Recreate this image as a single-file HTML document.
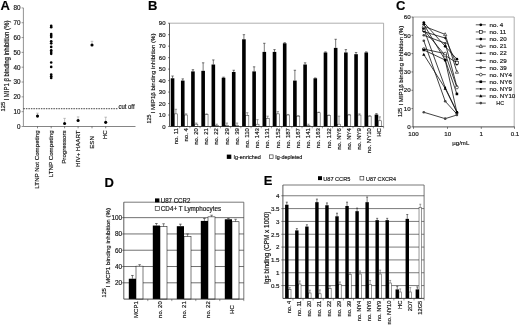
<!DOCTYPE html>
<html><head><meta charset="utf-8"><title>Figure</title>
<style>
html,body{margin:0;padding:0;background:#fff;}
body{width:520px;height:327px;overflow:hidden;}
svg{display:block;filter:blur(0.4px);}
svg text{font-family:'Liberation Sans', sans-serif;stroke:#222;stroke-width:0.18px;}
</style></head><body>
<svg width="520" height="327" viewBox="0 0 520 327">
<rect x="0" y="0" width="520" height="327" fill="#fff"/>
<g id="panelA">
<text x="0.60" y="9.80" font-size="13.0" text-anchor="start" font-weight="bold" fill="#000">A</text>
<line x1="23.40" y1="7.90" x2="23.40" y2="126.50" stroke="#777" stroke-width="0.8"/>
<line x1="23.40" y1="126.50" x2="135.50" y2="126.50" stroke="#666" stroke-width="0.8"/>
<line x1="21.60" y1="126.50" x2="23.40" y2="126.50" stroke="#555" stroke-width="0.6"/>
<text x="20.40" y="128.80" font-size="6.3" text-anchor="end" font-weight="normal" fill="#111">0</text>
<line x1="21.60" y1="111.67" x2="23.40" y2="111.67" stroke="#555" stroke-width="0.6"/>
<text x="20.40" y="113.97" font-size="6.3" text-anchor="end" font-weight="normal" fill="#111">10</text>
<line x1="21.60" y1="96.85" x2="23.40" y2="96.85" stroke="#555" stroke-width="0.6"/>
<text x="20.40" y="99.15" font-size="6.3" text-anchor="end" font-weight="normal" fill="#111">20</text>
<line x1="21.60" y1="82.03" x2="23.40" y2="82.03" stroke="#555" stroke-width="0.6"/>
<text x="20.40" y="84.33" font-size="6.3" text-anchor="end" font-weight="normal" fill="#111">30</text>
<line x1="21.60" y1="67.20" x2="23.40" y2="67.20" stroke="#555" stroke-width="0.6"/>
<text x="20.40" y="69.50" font-size="6.3" text-anchor="end" font-weight="normal" fill="#111">40</text>
<line x1="21.60" y1="52.38" x2="23.40" y2="52.38" stroke="#555" stroke-width="0.6"/>
<text x="20.40" y="54.67" font-size="6.3" text-anchor="end" font-weight="normal" fill="#111">50</text>
<line x1="21.60" y1="37.55" x2="23.40" y2="37.55" stroke="#555" stroke-width="0.6"/>
<text x="20.40" y="39.85" font-size="6.3" text-anchor="end" font-weight="normal" fill="#111">60</text>
<line x1="21.60" y1="22.72" x2="23.40" y2="22.72" stroke="#555" stroke-width="0.6"/>
<text x="20.40" y="25.02" font-size="6.3" text-anchor="end" font-weight="normal" fill="#111">70</text>
<line x1="21.60" y1="7.90" x2="23.40" y2="7.90" stroke="#555" stroke-width="0.6"/>
<text x="20.40" y="10.20" font-size="6.3" text-anchor="end" font-weight="normal" fill="#111">80</text>
<line x1="23.40" y1="108.71" x2="118.00" y2="108.71" stroke="#111" stroke-width="0.8" stroke-dasharray="1.5 1.0"/>
<text x="118.40" y="109.21" font-size="6.4" text-anchor="start" font-weight="normal" fill="#111" textLength="16.2" lengthAdjust="spacingAndGlyphs">cut off</text>
<line x1="37.50" y1="126.50" x2="37.50" y2="128.30" stroke="#333" stroke-width="0.6"/>
<text x="39.10" y="130.40" font-size="6.2" text-anchor="end" font-weight="normal" fill="#111" transform="rotate(-90 39.10 130.40)">LTNP Not Competing</text>
<line x1="51.20" y1="126.50" x2="51.20" y2="128.30" stroke="#333" stroke-width="0.6"/>
<text x="52.80" y="130.40" font-size="6.2" text-anchor="end" font-weight="normal" fill="#111" transform="rotate(-90 52.80 130.40)">LTNP Competing</text>
<line x1="64.60" y1="126.50" x2="64.60" y2="128.30" stroke="#333" stroke-width="0.6"/>
<text x="66.20" y="130.40" font-size="6.2" text-anchor="end" font-weight="normal" fill="#111" transform="rotate(-90 66.20 130.40)">Progressors</text>
<line x1="78.10" y1="126.50" x2="78.10" y2="128.30" stroke="#333" stroke-width="0.6"/>
<text x="79.70" y="130.40" font-size="6.2" text-anchor="end" font-weight="normal" fill="#111" transform="rotate(-90 79.70 130.40)">HIV+ HAART</text>
<line x1="92.00" y1="126.50" x2="92.00" y2="128.30" stroke="#333" stroke-width="0.6"/>
<text x="93.60" y="136.10" font-size="6.2" text-anchor="end" font-weight="normal" fill="#111" transform="rotate(-90 93.60 136.10)">ESN</text>
<line x1="105.70" y1="126.50" x2="105.70" y2="128.30" stroke="#333" stroke-width="0.6"/>
<text x="107.30" y="130.40" font-size="6.2" text-anchor="end" font-weight="normal" fill="#111" transform="rotate(-90 107.30 130.40)">HC</text>
<line x1="37.50" y1="116.12" x2="37.50" y2="113.16" stroke="#888" stroke-width="0.5"/>
<line x1="36.20" y1="113.16" x2="38.80" y2="113.16" stroke="#888" stroke-width="0.5"/>
<circle cx="37.50" cy="116.12" r="1.55" fill="#000" stroke="none" stroke-width="0.6"/>
<line x1="64.60" y1="123.53" x2="64.60" y2="118.35" stroke="#888" stroke-width="0.5"/>
<line x1="63.30" y1="118.35" x2="65.90" y2="118.35" stroke="#888" stroke-width="0.5"/>
<circle cx="64.60" cy="123.53" r="1.55" fill="#000" stroke="none" stroke-width="0.6"/>
<line x1="78.10" y1="120.57" x2="78.10" y2="116.86" stroke="#888" stroke-width="0.5"/>
<line x1="76.80" y1="116.86" x2="79.40" y2="116.86" stroke="#888" stroke-width="0.5"/>
<circle cx="78.10" cy="120.57" r="1.55" fill="#000" stroke="none" stroke-width="0.6"/>
<line x1="92.00" y1="44.96" x2="92.00" y2="41.26" stroke="#888" stroke-width="0.5"/>
<line x1="90.70" y1="41.26" x2="93.30" y2="41.26" stroke="#888" stroke-width="0.5"/>
<circle cx="92.00" cy="44.96" r="1.55" fill="#000" stroke="none" stroke-width="0.6"/>
<line x1="105.70" y1="122.35" x2="105.70" y2="117.16" stroke="#888" stroke-width="0.5"/>
<line x1="104.40" y1="117.16" x2="107.00" y2="117.16" stroke="#888" stroke-width="0.5"/>
<circle cx="105.70" cy="122.35" r="1.55" fill="#000" stroke="none" stroke-width="0.6"/>
<circle cx="51.20" cy="25.69" r="1.3" fill="#000" stroke="none" stroke-width="0.6"/>
<circle cx="51.20" cy="27.17" r="1.3" fill="#000" stroke="none" stroke-width="0.6"/>
<circle cx="51.20" cy="33.99" r="1.3" fill="#000" stroke="none" stroke-width="0.6"/>
<circle cx="51.20" cy="35.47" r="1.3" fill="#000" stroke="none" stroke-width="0.6"/>
<circle cx="51.20" cy="37.11" r="1.3" fill="#000" stroke="none" stroke-width="0.6"/>
<circle cx="51.20" cy="41.26" r="1.3" fill="#000" stroke="none" stroke-width="0.6"/>
<circle cx="51.20" cy="43.33" r="1.3" fill="#000" stroke="none" stroke-width="0.6"/>
<circle cx="51.20" cy="46.89" r="1.3" fill="#000" stroke="none" stroke-width="0.6"/>
<circle cx="51.20" cy="50.30" r="1.3" fill="#000" stroke="none" stroke-width="0.6"/>
<circle cx="51.20" cy="52.08" r="1.3" fill="#000" stroke="none" stroke-width="0.6"/>
<circle cx="51.20" cy="53.86" r="1.3" fill="#000" stroke="none" stroke-width="0.6"/>
<circle cx="51.20" cy="62.46" r="1.3" fill="#000" stroke="none" stroke-width="0.6"/>
<circle cx="51.20" cy="66.90" r="1.3" fill="#000" stroke="none" stroke-width="0.6"/>
<circle cx="51.20" cy="74.61" r="1.3" fill="#000" stroke="none" stroke-width="0.6"/>
<circle cx="51.20" cy="76.24" r="1.3" fill="#000" stroke="none" stroke-width="0.6"/>
<circle cx="51.20" cy="78.02" r="1.3" fill="#000" stroke="none" stroke-width="0.6"/>
<text x="5.30" y="111.40" font-size="4.9" text-anchor="start" font-weight="normal" fill="#111" textLength="9.6" lengthAdjust="spacingAndGlyphs" transform="rotate(-90 5.30 111.40)">125</text>
<text x="9.50" y="100.60" font-size="6.3" text-anchor="start" font-weight="normal" fill="#111" textLength="80" lengthAdjust="spacingAndGlyphs" transform="rotate(-90 9.50 100.60)">I MIP1 β binding inhibition (%)</text>
</g>
<g id="panelB">
<text x="148.00" y="9.80" font-size="13.0" text-anchor="start" font-weight="bold" fill="#000">B</text>
<line x1="169.50" y1="23.20" x2="383.60" y2="23.20" stroke="#999" stroke-width="0.8"/>
<line x1="383.60" y1="23.20" x2="383.60" y2="126.50" stroke="#999" stroke-width="0.8"/>
<rect x="174.35" y="113.87" width="3.10" height="12.63" fill="#fff" stroke="#444" stroke-width="0.55"/>
<line x1="175.90" y1="113.87" x2="175.90" y2="109.28" stroke="#555" stroke-width="0.55"/>
<line x1="174.70" y1="109.28" x2="177.10" y2="109.28" stroke="#555" stroke-width="0.55"/>
<rect x="170.75" y="78.29" width="3.60" height="48.21" fill="#000" stroke="none" stroke-width="0.6"/>
<line x1="172.55" y1="78.29" x2="172.55" y2="76.00" stroke="#222" stroke-width="0.6"/>
<line x1="171.35" y1="76.00" x2="173.75" y2="76.00" stroke="#222" stroke-width="0.6"/>
<line x1="179.70" y1="126.50" x2="179.70" y2="128.30" stroke="#333" stroke-width="0.5"/>
<text x="177.60" y="128.10" font-size="6.0" text-anchor="end" font-weight="normal" fill="#111" transform="rotate(-90 177.60 128.10)">no. 11</text>
<rect x="184.55" y="115.02" width="3.10" height="11.48" fill="#fff" stroke="#444" stroke-width="0.55"/>
<line x1="186.10" y1="115.02" x2="186.10" y2="113.87" stroke="#555" stroke-width="0.55"/>
<line x1="184.90" y1="113.87" x2="187.30" y2="113.87" stroke="#555" stroke-width="0.55"/>
<rect x="180.95" y="80.59" width="3.60" height="45.91" fill="#000" stroke="none" stroke-width="0.6"/>
<line x1="182.75" y1="80.59" x2="182.75" y2="78.87" stroke="#222" stroke-width="0.6"/>
<line x1="181.55" y1="78.87" x2="183.95" y2="78.87" stroke="#222" stroke-width="0.6"/>
<line x1="189.89" y1="126.50" x2="189.89" y2="128.30" stroke="#333" stroke-width="0.5"/>
<text x="187.79" y="128.10" font-size="6.0" text-anchor="end" font-weight="normal" fill="#111" transform="rotate(-90 187.79 128.10)">no. 4</text>
<rect x="194.74" y="124.20" width="3.10" height="2.30" fill="#fff" stroke="#444" stroke-width="0.55"/>
<line x1="196.29" y1="124.20" x2="196.29" y2="123.06" stroke="#555" stroke-width="0.55"/>
<line x1="195.09" y1="123.06" x2="197.49" y2="123.06" stroke="#555" stroke-width="0.55"/>
<rect x="191.14" y="71.41" width="3.60" height="55.09" fill="#000" stroke="none" stroke-width="0.6"/>
<line x1="192.94" y1="71.41" x2="192.94" y2="69.69" stroke="#222" stroke-width="0.6"/>
<line x1="191.74" y1="69.69" x2="194.14" y2="69.69" stroke="#222" stroke-width="0.6"/>
<line x1="200.09" y1="126.50" x2="200.09" y2="128.30" stroke="#333" stroke-width="0.5"/>
<text x="197.99" y="128.10" font-size="6.0" text-anchor="end" font-weight="normal" fill="#111" transform="rotate(-90 197.99 128.10)">no. 20</text>
<rect x="204.94" y="114.45" width="3.10" height="12.05" fill="#fff" stroke="#444" stroke-width="0.55"/>
<line x1="206.49" y1="114.45" x2="206.49" y2="113.87" stroke="#555" stroke-width="0.55"/>
<line x1="205.29" y1="113.87" x2="207.69" y2="113.87" stroke="#555" stroke-width="0.55"/>
<rect x="201.34" y="70.83" width="3.60" height="55.67" fill="#000" stroke="none" stroke-width="0.6"/>
<line x1="203.14" y1="70.83" x2="203.14" y2="62.80" stroke="#222" stroke-width="0.6"/>
<line x1="201.94" y1="62.80" x2="204.34" y2="62.80" stroke="#222" stroke-width="0.6"/>
<line x1="210.28" y1="126.50" x2="210.28" y2="128.30" stroke="#333" stroke-width="0.5"/>
<text x="208.18" y="128.10" font-size="6.0" text-anchor="end" font-weight="normal" fill="#111" transform="rotate(-90 208.18 128.10)">no. 21</text>
<rect x="215.13" y="125.35" width="3.10" height="1.15" fill="#fff" stroke="#444" stroke-width="0.55"/>
<line x1="216.68" y1="125.35" x2="216.68" y2="124.20" stroke="#555" stroke-width="0.55"/>
<line x1="215.48" y1="124.20" x2="217.88" y2="124.20" stroke="#555" stroke-width="0.55"/>
<rect x="211.53" y="64.52" width="3.60" height="61.98" fill="#000" stroke="none" stroke-width="0.6"/>
<line x1="213.33" y1="64.52" x2="213.33" y2="59.93" stroke="#222" stroke-width="0.6"/>
<line x1="212.13" y1="59.93" x2="214.53" y2="59.93" stroke="#222" stroke-width="0.6"/>
<line x1="220.48" y1="126.50" x2="220.48" y2="128.30" stroke="#333" stroke-width="0.5"/>
<text x="218.38" y="128.10" font-size="6.0" text-anchor="end" font-weight="normal" fill="#111" transform="rotate(-90 218.38 128.10)">no. 22</text>
<rect x="225.33" y="125.35" width="3.10" height="1.15" fill="#fff" stroke="#444" stroke-width="0.55"/>
<line x1="226.88" y1="125.35" x2="226.88" y2="123.06" stroke="#555" stroke-width="0.55"/>
<line x1="225.68" y1="123.06" x2="228.08" y2="123.06" stroke="#555" stroke-width="0.55"/>
<rect x="221.73" y="77.72" width="3.60" height="48.78" fill="#000" stroke="none" stroke-width="0.6"/>
<line x1="223.53" y1="77.72" x2="223.53" y2="77.15" stroke="#222" stroke-width="0.6"/>
<line x1="222.33" y1="77.15" x2="224.73" y2="77.15" stroke="#222" stroke-width="0.6"/>
<line x1="230.67" y1="126.50" x2="230.67" y2="128.30" stroke="#333" stroke-width="0.5"/>
<text x="228.57" y="128.10" font-size="6.0" text-anchor="end" font-weight="normal" fill="#111" transform="rotate(-90 228.57 128.10)">no. 29</text>
<rect x="235.52" y="125.35" width="3.10" height="1.15" fill="#fff" stroke="#444" stroke-width="0.55"/>
<line x1="237.07" y1="125.35" x2="237.07" y2="123.06" stroke="#555" stroke-width="0.55"/>
<line x1="235.87" y1="123.06" x2="238.27" y2="123.06" stroke="#555" stroke-width="0.55"/>
<rect x="231.92" y="71.98" width="3.60" height="54.52" fill="#000" stroke="none" stroke-width="0.6"/>
<line x1="233.72" y1="71.98" x2="233.72" y2="70.26" stroke="#222" stroke-width="0.6"/>
<line x1="232.52" y1="70.26" x2="234.92" y2="70.26" stroke="#222" stroke-width="0.6"/>
<line x1="240.87" y1="126.50" x2="240.87" y2="128.30" stroke="#333" stroke-width="0.5"/>
<text x="238.77" y="128.10" font-size="6.0" text-anchor="end" font-weight="normal" fill="#111" transform="rotate(-90 238.77 128.10)">no. 39</text>
<rect x="245.72" y="115.60" width="3.10" height="10.90" fill="#fff" stroke="#444" stroke-width="0.55"/>
<line x1="247.27" y1="115.60" x2="247.27" y2="112.73" stroke="#555" stroke-width="0.55"/>
<line x1="246.07" y1="112.73" x2="248.47" y2="112.73" stroke="#555" stroke-width="0.55"/>
<rect x="242.12" y="39.27" width="3.60" height="87.23" fill="#000" stroke="none" stroke-width="0.6"/>
<line x1="243.92" y1="39.27" x2="243.92" y2="34.68" stroke="#222" stroke-width="0.6"/>
<line x1="242.72" y1="34.68" x2="245.12" y2="34.68" stroke="#222" stroke-width="0.6"/>
<line x1="251.06" y1="126.50" x2="251.06" y2="128.30" stroke="#333" stroke-width="0.5"/>
<text x="248.96" y="128.10" font-size="6.0" text-anchor="end" font-weight="normal" fill="#111" transform="rotate(-90 248.96 128.10)">no. 110</text>
<rect x="255.91" y="124.20" width="3.10" height="2.30" fill="#fff" stroke="#444" stroke-width="0.55"/>
<line x1="257.46" y1="124.20" x2="257.46" y2="119.61" stroke="#555" stroke-width="0.55"/>
<line x1="256.26" y1="119.61" x2="258.66" y2="119.61" stroke="#555" stroke-width="0.55"/>
<rect x="252.31" y="71.41" width="3.60" height="55.09" fill="#000" stroke="none" stroke-width="0.6"/>
<line x1="254.11" y1="71.41" x2="254.11" y2="66.82" stroke="#222" stroke-width="0.6"/>
<line x1="252.91" y1="66.82" x2="255.31" y2="66.82" stroke="#222" stroke-width="0.6"/>
<line x1="261.26" y1="126.50" x2="261.26" y2="128.30" stroke="#333" stroke-width="0.5"/>
<text x="259.16" y="128.10" font-size="6.0" text-anchor="end" font-weight="normal" fill="#111" transform="rotate(-90 259.16 128.10)">no. 143</text>
<rect x="266.11" y="118.47" width="3.10" height="8.03" fill="#fff" stroke="#444" stroke-width="0.55"/>
<line x1="267.66" y1="118.47" x2="267.66" y2="116.17" stroke="#555" stroke-width="0.55"/>
<line x1="266.46" y1="116.17" x2="268.86" y2="116.17" stroke="#555" stroke-width="0.55"/>
<rect x="262.51" y="51.89" width="3.60" height="74.61" fill="#000" stroke="none" stroke-width="0.6"/>
<line x1="264.31" y1="51.89" x2="264.31" y2="43.29" stroke="#222" stroke-width="0.6"/>
<line x1="263.11" y1="43.29" x2="265.51" y2="43.29" stroke="#222" stroke-width="0.6"/>
<line x1="271.45" y1="126.50" x2="271.45" y2="128.30" stroke="#333" stroke-width="0.5"/>
<text x="269.35" y="128.10" font-size="6.0" text-anchor="end" font-weight="normal" fill="#111" transform="rotate(-90 269.35 128.10)">no. 131</text>
<rect x="276.30" y="113.87" width="3.10" height="12.63" fill="#fff" stroke="#444" stroke-width="0.55"/>
<line x1="277.85" y1="113.87" x2="277.85" y2="111.58" stroke="#555" stroke-width="0.55"/>
<line x1="276.65" y1="111.58" x2="279.05" y2="111.58" stroke="#555" stroke-width="0.55"/>
<rect x="272.70" y="51.89" width="3.60" height="74.61" fill="#000" stroke="none" stroke-width="0.6"/>
<line x1="274.50" y1="51.89" x2="274.50" y2="49.60" stroke="#222" stroke-width="0.6"/>
<line x1="273.30" y1="49.60" x2="275.70" y2="49.60" stroke="#222" stroke-width="0.6"/>
<line x1="281.65" y1="126.50" x2="281.65" y2="128.30" stroke="#333" stroke-width="0.5"/>
<text x="279.55" y="128.10" font-size="6.0" text-anchor="end" font-weight="normal" fill="#111" transform="rotate(-90 279.55 128.10)">no. 152</text>
<rect x="286.50" y="115.02" width="3.10" height="11.48" fill="#fff" stroke="#444" stroke-width="0.55"/>
<line x1="288.05" y1="115.02" x2="288.05" y2="114.45" stroke="#555" stroke-width="0.55"/>
<line x1="286.85" y1="114.45" x2="289.25" y2="114.45" stroke="#555" stroke-width="0.55"/>
<rect x="282.90" y="43.29" width="3.60" height="83.21" fill="#000" stroke="none" stroke-width="0.6"/>
<line x1="284.70" y1="43.29" x2="284.70" y2="42.71" stroke="#222" stroke-width="0.6"/>
<line x1="283.50" y1="42.71" x2="285.90" y2="42.71" stroke="#222" stroke-width="0.6"/>
<line x1="291.84" y1="126.50" x2="291.84" y2="128.30" stroke="#333" stroke-width="0.5"/>
<text x="289.75" y="128.10" font-size="6.0" text-anchor="end" font-weight="normal" fill="#111" transform="rotate(-90 289.75 128.10)">no. 187</text>
<rect x="296.69" y="116.17" width="3.10" height="10.33" fill="#fff" stroke="#444" stroke-width="0.55"/>
<line x1="298.24" y1="116.17" x2="298.24" y2="115.60" stroke="#555" stroke-width="0.55"/>
<line x1="297.04" y1="115.60" x2="299.44" y2="115.60" stroke="#555" stroke-width="0.55"/>
<rect x="293.09" y="80.59" width="3.60" height="45.91" fill="#000" stroke="none" stroke-width="0.6"/>
<line x1="294.89" y1="80.59" x2="294.89" y2="70.26" stroke="#222" stroke-width="0.6"/>
<line x1="293.69" y1="70.26" x2="296.09" y2="70.26" stroke="#222" stroke-width="0.6"/>
<line x1="302.04" y1="126.50" x2="302.04" y2="128.30" stroke="#333" stroke-width="0.5"/>
<text x="299.94" y="128.10" font-size="6.0" text-anchor="end" font-weight="normal" fill="#111" transform="rotate(-90 299.94 128.10)">no. 167</text>
<rect x="306.89" y="125.35" width="3.10" height="1.15" fill="#fff" stroke="#444" stroke-width="0.55"/>
<line x1="308.44" y1="125.35" x2="308.44" y2="124.20" stroke="#555" stroke-width="0.55"/>
<line x1="307.24" y1="124.20" x2="309.64" y2="124.20" stroke="#555" stroke-width="0.55"/>
<rect x="303.29" y="64.52" width="3.60" height="61.98" fill="#000" stroke="none" stroke-width="0.6"/>
<line x1="305.09" y1="64.52" x2="305.09" y2="62.80" stroke="#222" stroke-width="0.6"/>
<line x1="303.89" y1="62.80" x2="306.29" y2="62.80" stroke="#222" stroke-width="0.6"/>
<line x1="312.23" y1="126.50" x2="312.23" y2="128.30" stroke="#333" stroke-width="0.5"/>
<text x="310.14" y="128.10" font-size="6.0" text-anchor="end" font-weight="normal" fill="#111" transform="rotate(-90 310.14 128.10)">no. 141</text>
<rect x="317.08" y="112.73" width="3.10" height="13.77" fill="#fff" stroke="#444" stroke-width="0.55"/>
<line x1="318.63" y1="112.73" x2="318.63" y2="112.15" stroke="#555" stroke-width="0.55"/>
<line x1="317.43" y1="112.15" x2="319.83" y2="112.15" stroke="#555" stroke-width="0.55"/>
<rect x="313.48" y="78.29" width="3.60" height="48.21" fill="#000" stroke="none" stroke-width="0.6"/>
<line x1="315.28" y1="78.29" x2="315.28" y2="77.95" stroke="#222" stroke-width="0.6"/>
<line x1="314.08" y1="77.95" x2="316.48" y2="77.95" stroke="#222" stroke-width="0.6"/>
<line x1="322.43" y1="126.50" x2="322.43" y2="128.30" stroke="#333" stroke-width="0.5"/>
<text x="320.33" y="128.10" font-size="6.0" text-anchor="end" font-weight="normal" fill="#111" transform="rotate(-90 320.33 128.10)">no. 163</text>
<rect x="327.28" y="115.37" width="3.10" height="11.13" fill="#fff" stroke="#444" stroke-width="0.55"/>
<line x1="328.83" y1="115.37" x2="328.83" y2="115.02" stroke="#555" stroke-width="0.55"/>
<line x1="327.63" y1="115.02" x2="330.03" y2="115.02" stroke="#555" stroke-width="0.55"/>
<rect x="323.68" y="52.47" width="3.60" height="74.03" fill="#000" stroke="none" stroke-width="0.6"/>
<line x1="325.48" y1="52.47" x2="325.48" y2="51.89" stroke="#222" stroke-width="0.6"/>
<line x1="324.28" y1="51.89" x2="326.68" y2="51.89" stroke="#222" stroke-width="0.6"/>
<line x1="332.62" y1="126.50" x2="332.62" y2="128.30" stroke="#333" stroke-width="0.5"/>
<text x="330.53" y="128.10" font-size="6.0" text-anchor="end" font-weight="normal" fill="#111" transform="rotate(-90 330.53 128.10)">no. 132</text>
<rect x="337.47" y="124.20" width="3.10" height="2.30" fill="#fff" stroke="#444" stroke-width="0.55"/>
<line x1="339.02" y1="124.20" x2="339.02" y2="116.17" stroke="#555" stroke-width="0.55"/>
<line x1="337.82" y1="116.17" x2="340.22" y2="116.17" stroke="#555" stroke-width="0.55"/>
<rect x="333.87" y="47.88" width="3.60" height="78.62" fill="#000" stroke="none" stroke-width="0.6"/>
<line x1="335.67" y1="47.88" x2="335.67" y2="39.27" stroke="#222" stroke-width="0.6"/>
<line x1="334.47" y1="39.27" x2="336.87" y2="39.27" stroke="#222" stroke-width="0.6"/>
<line x1="342.82" y1="126.50" x2="342.82" y2="128.30" stroke="#333" stroke-width="0.5"/>
<text x="340.72" y="128.10" font-size="6.0" text-anchor="end" font-weight="normal" fill="#111" transform="rotate(-90 340.72 128.10)">no. NY6</text>
<rect x="347.67" y="115.02" width="3.10" height="11.48" fill="#fff" stroke="#444" stroke-width="0.55"/>
<line x1="349.22" y1="115.02" x2="349.22" y2="114.45" stroke="#555" stroke-width="0.55"/>
<line x1="348.02" y1="114.45" x2="350.42" y2="114.45" stroke="#555" stroke-width="0.55"/>
<rect x="344.07" y="52.47" width="3.60" height="74.03" fill="#000" stroke="none" stroke-width="0.6"/>
<line x1="345.87" y1="52.47" x2="345.87" y2="49.60" stroke="#222" stroke-width="0.6"/>
<line x1="344.67" y1="49.60" x2="347.07" y2="49.60" stroke="#222" stroke-width="0.6"/>
<line x1="353.01" y1="126.50" x2="353.01" y2="128.30" stroke="#333" stroke-width="0.5"/>
<text x="350.92" y="128.10" font-size="6.0" text-anchor="end" font-weight="normal" fill="#111" transform="rotate(-90 350.92 128.10)">no. NY4</text>
<rect x="357.86" y="115.02" width="3.10" height="11.48" fill="#fff" stroke="#444" stroke-width="0.55"/>
<line x1="359.41" y1="115.02" x2="359.41" y2="113.87" stroke="#555" stroke-width="0.55"/>
<line x1="358.21" y1="113.87" x2="360.61" y2="113.87" stroke="#555" stroke-width="0.55"/>
<rect x="354.26" y="54.19" width="3.60" height="72.31" fill="#000" stroke="none" stroke-width="0.6"/>
<line x1="356.06" y1="54.19" x2="356.06" y2="52.47" stroke="#222" stroke-width="0.6"/>
<line x1="354.86" y1="52.47" x2="357.26" y2="52.47" stroke="#222" stroke-width="0.6"/>
<line x1="363.21" y1="126.50" x2="363.21" y2="128.30" stroke="#333" stroke-width="0.5"/>
<text x="361.11" y="128.10" font-size="6.0" text-anchor="end" font-weight="normal" fill="#111" transform="rotate(-90 361.11 128.10)">no. NY9</text>
<rect x="368.06" y="116.17" width="3.10" height="10.33" fill="#fff" stroke="#444" stroke-width="0.55"/>
<line x1="369.61" y1="116.17" x2="369.61" y2="115.60" stroke="#555" stroke-width="0.55"/>
<line x1="368.41" y1="115.60" x2="370.81" y2="115.60" stroke="#555" stroke-width="0.55"/>
<rect x="364.46" y="52.47" width="3.60" height="74.03" fill="#000" stroke="none" stroke-width="0.6"/>
<line x1="366.26" y1="52.47" x2="366.26" y2="51.89" stroke="#222" stroke-width="0.6"/>
<line x1="365.06" y1="51.89" x2="367.46" y2="51.89" stroke="#222" stroke-width="0.6"/>
<line x1="373.40" y1="126.50" x2="373.40" y2="128.30" stroke="#333" stroke-width="0.5"/>
<text x="371.31" y="128.10" font-size="6.0" text-anchor="end" font-weight="normal" fill="#111" transform="rotate(-90 371.31 128.10)">no. NY10</text>
<rect x="378.25" y="120.76" width="3.10" height="5.74" fill="#fff" stroke="#444" stroke-width="0.55"/>
<line x1="379.80" y1="120.76" x2="379.80" y2="116.86" stroke="#555" stroke-width="0.55"/>
<line x1="378.60" y1="116.86" x2="381.00" y2="116.86" stroke="#555" stroke-width="0.55"/>
<rect x="374.65" y="114.56" width="3.60" height="11.94" fill="#000" stroke="none" stroke-width="0.6"/>
<line x1="376.45" y1="114.56" x2="376.45" y2="113.64" stroke="#222" stroke-width="0.6"/>
<line x1="375.25" y1="113.64" x2="377.65" y2="113.64" stroke="#222" stroke-width="0.6"/>
<line x1="383.60" y1="126.50" x2="383.60" y2="128.30" stroke="#333" stroke-width="0.5"/>
<text x="381.50" y="128.10" font-size="6.0" text-anchor="end" font-weight="normal" fill="#111" transform="rotate(-90 381.50 128.10)">HC</text>
<line x1="169.50" y1="23.20" x2="169.50" y2="126.50" stroke="#333" stroke-width="0.8"/>
<line x1="169.50" y1="126.50" x2="383.60" y2="126.50" stroke="#222" stroke-width="0.8"/>
<line x1="168.00" y1="126.50" x2="169.50" y2="126.50" stroke="#333" stroke-width="0.6"/>
<text x="165.50" y="128.70" font-size="6.0" text-anchor="end" font-weight="normal" fill="#111">0</text>
<line x1="168.00" y1="115.02" x2="169.50" y2="115.02" stroke="#333" stroke-width="0.6"/>
<text x="165.50" y="117.22" font-size="6.0" text-anchor="end" font-weight="normal" fill="#111">10</text>
<line x1="168.00" y1="103.54" x2="169.50" y2="103.54" stroke="#333" stroke-width="0.6"/>
<text x="165.50" y="105.74" font-size="6.0" text-anchor="end" font-weight="normal" fill="#111">20</text>
<line x1="168.00" y1="92.07" x2="169.50" y2="92.07" stroke="#333" stroke-width="0.6"/>
<text x="165.50" y="94.27" font-size="6.0" text-anchor="end" font-weight="normal" fill="#111">30</text>
<line x1="168.00" y1="80.59" x2="169.50" y2="80.59" stroke="#333" stroke-width="0.6"/>
<text x="165.50" y="82.79" font-size="6.0" text-anchor="end" font-weight="normal" fill="#111">40</text>
<line x1="168.00" y1="69.11" x2="169.50" y2="69.11" stroke="#333" stroke-width="0.6"/>
<text x="165.50" y="71.31" font-size="6.0" text-anchor="end" font-weight="normal" fill="#111">50</text>
<line x1="168.00" y1="57.63" x2="169.50" y2="57.63" stroke="#333" stroke-width="0.6"/>
<text x="165.50" y="59.83" font-size="6.0" text-anchor="end" font-weight="normal" fill="#111">60</text>
<line x1="168.00" y1="46.16" x2="169.50" y2="46.16" stroke="#333" stroke-width="0.6"/>
<text x="165.50" y="48.36" font-size="6.0" text-anchor="end" font-weight="normal" fill="#111">70</text>
<line x1="168.00" y1="34.68" x2="169.50" y2="34.68" stroke="#333" stroke-width="0.6"/>
<text x="165.50" y="36.88" font-size="6.0" text-anchor="end" font-weight="normal" fill="#111">80</text>
<line x1="168.00" y1="23.20" x2="169.50" y2="23.20" stroke="#333" stroke-width="0.6"/>
<text x="165.50" y="25.40" font-size="6.0" text-anchor="end" font-weight="normal" fill="#111">90</text>
<rect x="226.80" y="154.60" width="4.50" height="4.30" fill="#000" stroke="none" stroke-width="0.6"/>
<text x="233.40" y="159.00" font-size="5.8" text-anchor="start" font-weight="normal" fill="#111" textLength="27.5" lengthAdjust="spacingAndGlyphs">Ig-enriched</text>
<rect x="269.40" y="154.90" width="3.70" height="3.70" fill="#fff" stroke="#222" stroke-width="0.6"/>
<text x="275.30" y="159.00" font-size="5.8" text-anchor="start" font-weight="normal" fill="#111" textLength="27" lengthAdjust="spacingAndGlyphs">Ig-depleted</text>
<text x="151.00" y="123.40" font-size="4.9" text-anchor="start" font-weight="normal" fill="#111" textLength="8.8" lengthAdjust="spacingAndGlyphs" transform="rotate(-90 151.00 123.40)">125</text>
<text x="154.60" y="113.40" font-size="6.2" text-anchor="start" font-weight="normal" fill="#111" textLength="80" lengthAdjust="spacingAndGlyphs" transform="rotate(-90 154.60 113.40)">I MIP1β binding inhibition (%)</text>
</g>
<g id="panelC">
<text x="396.00" y="9.90" font-size="13.0" text-anchor="start" font-weight="bold" fill="#000">C</text>
<line x1="413.00" y1="17.00" x2="514.20" y2="17.00" stroke="#999" stroke-width="0.8"/>
<line x1="514.20" y1="17.00" x2="514.20" y2="126.90" stroke="#999" stroke-width="0.8"/>
<line x1="413.00" y1="17.00" x2="413.00" y2="126.90" stroke="#333" stroke-width="0.8"/>
<line x1="413.00" y1="126.90" x2="514.60" y2="126.90" stroke="#222" stroke-width="0.8"/>
<line x1="411.40" y1="126.90" x2="413.00" y2="126.90" stroke="#333" stroke-width="0.6"/>
<text x="410.60" y="129.10" font-size="6.2" text-anchor="end" font-weight="normal" fill="#111">0</text>
<line x1="411.40" y1="108.58" x2="413.00" y2="108.58" stroke="#333" stroke-width="0.6"/>
<text x="410.60" y="110.78" font-size="6.2" text-anchor="end" font-weight="normal" fill="#111">10</text>
<line x1="411.40" y1="90.27" x2="413.00" y2="90.27" stroke="#333" stroke-width="0.6"/>
<text x="410.60" y="92.47" font-size="6.2" text-anchor="end" font-weight="normal" fill="#111">20</text>
<line x1="411.40" y1="71.95" x2="413.00" y2="71.95" stroke="#333" stroke-width="0.6"/>
<text x="410.60" y="74.15" font-size="6.2" text-anchor="end" font-weight="normal" fill="#111">30</text>
<line x1="411.40" y1="53.63" x2="413.00" y2="53.63" stroke="#333" stroke-width="0.6"/>
<text x="410.60" y="55.83" font-size="6.2" text-anchor="end" font-weight="normal" fill="#111">40</text>
<line x1="411.40" y1="35.32" x2="413.00" y2="35.32" stroke="#333" stroke-width="0.6"/>
<text x="410.60" y="37.52" font-size="6.2" text-anchor="end" font-weight="normal" fill="#111">50</text>
<line x1="411.40" y1="17.00" x2="413.00" y2="17.00" stroke="#333" stroke-width="0.6"/>
<text x="410.60" y="19.20" font-size="6.2" text-anchor="end" font-weight="normal" fill="#111">60</text>
<line x1="413.50" y1="126.90" x2="413.50" y2="128.90" stroke="#333" stroke-width="0.6"/>
<line x1="447.50" y1="126.90" x2="447.50" y2="128.90" stroke="#333" stroke-width="0.6"/>
<line x1="481.30" y1="126.90" x2="481.30" y2="128.90" stroke="#333" stroke-width="0.6"/>
<line x1="514.50" y1="126.90" x2="514.50" y2="128.90" stroke="#333" stroke-width="0.6"/>
<text x="413.50" y="136.20" font-size="6.2" text-anchor="middle" font-weight="normal" fill="#111">100</text>
<text x="447.80" y="136.20" font-size="6.2" text-anchor="middle" font-weight="normal" fill="#111">10</text>
<text x="481.30" y="136.20" font-size="6.2" text-anchor="middle" font-weight="normal" fill="#111">1</text>
<text x="519.30" y="136.20" font-size="6.2" text-anchor="end" font-weight="normal" fill="#111">0.1</text>
<text x="460.80" y="144.80" font-size="6.2" text-anchor="middle" font-weight="normal" fill="#111" textLength="17" lengthAdjust="spacingAndGlyphs">µg/mL</text>
<polyline points="423.80,22.50 445.20,46.31 456.90,59.13" fill="none" stroke="#111" stroke-width="0.8"/>
<polyline points="423.80,29.82 445.20,55.47 456.90,62.79" fill="none" stroke="#111" stroke-width="0.8"/>
<polyline points="423.80,24.33 445.20,60.04 456.90,112.25" fill="none" stroke="#111" stroke-width="0.8"/>
<polyline points="423.80,26.16 445.20,34.40 456.90,71.95" fill="none" stroke="#111" stroke-width="0.8"/>
<polyline points="423.80,31.65 445.20,38.06 456.90,64.62" fill="none" stroke="#111" stroke-width="0.8"/>
<polyline points="423.80,35.32 445.20,43.19 456.90,86.60" fill="none" stroke="#111" stroke-width="0.8"/>
<polyline points="423.80,40.81 445.20,101.26 456.90,114.08" fill="none" stroke="#111" stroke-width="0.8"/>
<polyline points="423.80,49.05 445.20,53.63 456.90,87.52" fill="none" stroke="#111" stroke-width="0.8"/>
<polyline points="423.80,49.97 445.20,60.04 456.90,93.93" fill="none" stroke="#111" stroke-width="0.8"/>
<polyline points="423.80,28.91 445.20,87.52 456.90,111.88" fill="none" stroke="#111" stroke-width="0.8"/>
<polyline points="423.80,54.55 445.20,88.44 456.90,112.25" fill="none" stroke="#111" stroke-width="0.8"/>
<polyline points="423.80,112.25 445.20,118.66 456.90,114.99" fill="none" stroke="#111" stroke-width="0.8"/>
<circle cx="423.80" cy="22.50" r="1.35" fill="#000" stroke="none" stroke-width="0.6"/>
<circle cx="445.20" cy="46.31" r="1.35" fill="#000" stroke="none" stroke-width="0.6"/>
<circle cx="456.90" cy="59.13" r="1.35" fill="#000" stroke="none" stroke-width="0.6"/>
<rect x="422.40" y="28.42" width="2.80" height="2.80" fill="#fff" stroke="#000" stroke-width="0.6"/>
<rect x="443.80" y="54.07" width="2.80" height="2.80" fill="#fff" stroke="#000" stroke-width="0.6"/>
<rect x="455.50" y="61.39" width="2.80" height="2.80" fill="#fff" stroke="#000" stroke-width="0.6"/>
<circle cx="423.80" cy="24.33" r="1.35" fill="#000" stroke="none" stroke-width="0.6"/>
<circle cx="445.20" cy="60.04" r="1.35" fill="#000" stroke="none" stroke-width="0.6"/>
<circle cx="456.90" cy="112.25" r="1.35" fill="#000" stroke="none" stroke-width="0.6"/>
<polygon points="423.80,24.46 422.20,27.46 425.40,27.46" fill="#fff" stroke="#000" stroke-width="0.6"/>
<polygon points="445.20,32.70 443.60,35.70 446.80,35.70" fill="#fff" stroke="#000" stroke-width="0.6"/>
<polygon points="456.90,70.25 455.30,73.25 458.50,73.25" fill="#fff" stroke="#000" stroke-width="0.6"/>
<circle cx="423.80" cy="31.65" r="0.95" fill="#000" stroke="none" stroke-width="0.6"/>
<circle cx="445.20" cy="38.06" r="0.95" fill="#000" stroke="none" stroke-width="0.6"/>
<circle cx="456.90" cy="64.62" r="0.95" fill="#000" stroke="none" stroke-width="0.6"/>
<circle cx="423.80" cy="35.32" r="1.3" fill="#444" stroke="none" stroke-width="0.6"/>
<circle cx="445.20" cy="43.19" r="1.3" fill="#444" stroke="none" stroke-width="0.6"/>
<circle cx="456.90" cy="86.60" r="1.3" fill="#444" stroke="none" stroke-width="0.6"/>
<circle cx="423.80" cy="40.81" r="1.3" fill="#444" stroke="none" stroke-width="0.6"/>
<circle cx="445.20" cy="101.26" r="1.3" fill="#444" stroke="none" stroke-width="0.6"/>
<circle cx="456.90" cy="114.08" r="1.3" fill="#444" stroke="none" stroke-width="0.6"/>
<circle cx="423.80" cy="49.05" r="1.4" fill="#fff" stroke="#000" stroke-width="0.6"/>
<circle cx="445.20" cy="53.63" r="1.4" fill="#fff" stroke="#000" stroke-width="0.6"/>
<circle cx="456.90" cy="87.52" r="1.4" fill="#fff" stroke="#000" stroke-width="0.6"/>
<rect x="422.50" y="48.67" width="2.60" height="2.60" fill="#000" stroke="none" stroke-width="0.6"/>
<rect x="443.90" y="58.74" width="2.60" height="2.60" fill="#000" stroke="none" stroke-width="0.6"/>
<rect x="455.60" y="92.63" width="2.60" height="2.60" fill="#000" stroke="none" stroke-width="0.6"/>
<circle cx="423.80" cy="28.91" r="0.95" fill="#000" stroke="none" stroke-width="0.6"/>
<circle cx="445.20" cy="87.52" r="0.95" fill="#000" stroke="none" stroke-width="0.6"/>
<circle cx="456.90" cy="111.88" r="0.95" fill="#000" stroke="none" stroke-width="0.6"/>
<polygon points="423.80,52.85 422.20,55.85 425.40,55.85" fill="#000"/>
<polygon points="445.20,86.73 443.60,89.73 446.80,89.73" fill="#000"/>
<polygon points="456.90,110.55 455.30,113.55 458.50,113.55" fill="#000"/>
<circle cx="423.80" cy="112.25" r="1.3" fill="#444" stroke="none" stroke-width="0.6"/>
<circle cx="445.20" cy="118.66" r="1.3" fill="#444" stroke="none" stroke-width="0.6"/>
<circle cx="456.90" cy="114.99" r="1.3" fill="#444" stroke="none" stroke-width="0.6"/>
<line x1="475.80" y1="24.80" x2="485.80" y2="24.80" stroke="#111" stroke-width="0.7"/>
<circle cx="480.80" cy="24.80" r="1.35" fill="#000" stroke="none" stroke-width="0.6"/>
<text x="489.50" y="27.00" font-size="6.2" text-anchor="start" font-weight="normal" fill="#111">no. 4</text>
<line x1="475.80" y1="31.92" x2="485.80" y2="31.92" stroke="#111" stroke-width="0.7"/>
<rect x="479.40" y="30.52" width="2.80" height="2.80" fill="#fff" stroke="#000" stroke-width="0.6"/>
<text x="489.50" y="34.12" font-size="6.2" text-anchor="start" font-weight="normal" fill="#111">no. 11</text>
<line x1="475.80" y1="39.04" x2="485.80" y2="39.04" stroke="#111" stroke-width="0.7"/>
<circle cx="480.80" cy="39.04" r="1.35" fill="#000" stroke="none" stroke-width="0.6"/>
<text x="489.50" y="41.24" font-size="6.2" text-anchor="start" font-weight="normal" fill="#111">no. 20</text>
<line x1="475.80" y1="46.16" x2="485.80" y2="46.16" stroke="#111" stroke-width="0.7"/>
<polygon points="480.80,44.46 479.20,47.46 482.40,47.46" fill="#fff" stroke="#000" stroke-width="0.6"/>
<text x="489.50" y="48.36" font-size="6.2" text-anchor="start" font-weight="normal" fill="#111">no. 21</text>
<line x1="475.80" y1="53.28" x2="485.80" y2="53.28" stroke="#111" stroke-width="0.7"/>
<circle cx="480.80" cy="53.28" r="0.95" fill="#000" stroke="none" stroke-width="0.6"/>
<text x="489.50" y="55.48" font-size="6.2" text-anchor="start" font-weight="normal" fill="#111">no. 22</text>
<line x1="475.80" y1="60.40" x2="485.80" y2="60.40" stroke="#111" stroke-width="0.7"/>
<circle cx="480.80" cy="60.40" r="1.3" fill="#444" stroke="none" stroke-width="0.6"/>
<text x="489.50" y="62.60" font-size="6.2" text-anchor="start" font-weight="normal" fill="#111">no. 29</text>
<line x1="475.80" y1="67.52" x2="485.80" y2="67.52" stroke="#111" stroke-width="0.7"/>
<circle cx="480.80" cy="67.52" r="1.3" fill="#444" stroke="none" stroke-width="0.6"/>
<text x="489.50" y="69.72" font-size="6.2" text-anchor="start" font-weight="normal" fill="#111">no. 39</text>
<line x1="475.80" y1="74.64" x2="485.80" y2="74.64" stroke="#111" stroke-width="0.7"/>
<circle cx="480.80" cy="74.64" r="1.4" fill="#fff" stroke="#000" stroke-width="0.6"/>
<text x="489.50" y="76.84" font-size="6.2" text-anchor="start" font-weight="normal" fill="#111">no. NY4</text>
<line x1="475.80" y1="81.76" x2="485.80" y2="81.76" stroke="#111" stroke-width="0.7"/>
<rect x="479.50" y="80.46" width="2.60" height="2.60" fill="#000" stroke="none" stroke-width="0.6"/>
<text x="489.50" y="83.96" font-size="6.2" text-anchor="start" font-weight="normal" fill="#111">no. NY6</text>
<line x1="475.80" y1="88.88" x2="485.80" y2="88.88" stroke="#111" stroke-width="0.7"/>
<circle cx="480.80" cy="88.88" r="0.95" fill="#000" stroke="none" stroke-width="0.6"/>
<text x="489.50" y="91.08" font-size="6.2" text-anchor="start" font-weight="normal" fill="#111">no. NY9</text>
<line x1="475.80" y1="96.00" x2="485.80" y2="96.00" stroke="#111" stroke-width="0.7"/>
<polygon points="480.80,94.30 479.20,97.30 482.40,97.30" fill="#000"/>
<text x="489.50" y="98.20" font-size="6.2" text-anchor="start" font-weight="normal" fill="#111">no. NY10</text>
<line x1="475.80" y1="103.12" x2="485.80" y2="103.12" stroke="#111" stroke-width="0.7"/>
<circle cx="480.80" cy="103.12" r="1.3" fill="#444" stroke="none" stroke-width="0.6"/>
<text x="496.30" y="105.32" font-size="6.0" text-anchor="start" font-weight="normal" fill="#111" textLength="7.8" lengthAdjust="spacingAndGlyphs">HC</text>
<text x="401.80" y="117.10" font-size="5.5" text-anchor="start" font-weight="normal" fill="#111" textLength="9.2" lengthAdjust="spacingAndGlyphs" transform="rotate(-90 401.80 117.10)">125</text>
<text x="402.70" y="105.60" font-size="6.2" text-anchor="start" font-weight="normal" fill="#111" textLength="80" lengthAdjust="spacingAndGlyphs" transform="rotate(-90 402.70 105.60)">I MIP1β binding inhibition (%)</text>
</g>
<g id="panelD">
<text x="104.60" y="186.70" font-size="13.0" text-anchor="start" font-weight="bold" fill="#000">D</text>
<line x1="123.80" y1="202.20" x2="243.80" y2="202.20" stroke="#555" stroke-width="0.8"/>
<line x1="243.80" y1="202.20" x2="243.80" y2="299.10" stroke="#555" stroke-width="0.8"/>
<line x1="123.80" y1="282.81" x2="243.80" y2="282.81" stroke="#333" stroke-width="0.7"/>
<line x1="123.80" y1="266.52" x2="243.80" y2="266.52" stroke="#333" stroke-width="0.7"/>
<line x1="123.80" y1="250.23" x2="243.80" y2="250.23" stroke="#333" stroke-width="0.7"/>
<line x1="123.80" y1="233.94" x2="243.80" y2="233.94" stroke="#333" stroke-width="0.7"/>
<line x1="123.80" y1="217.65" x2="243.80" y2="217.65" stroke="#333" stroke-width="0.7"/>
<rect x="136.00" y="266.19" width="7.00" height="32.91" fill="#fff" stroke="#222" stroke-width="0.6"/>
<line x1="139.60" y1="266.19" x2="139.60" y2="264.65" stroke="#333" stroke-width="0.6"/>
<line x1="138.30" y1="264.65" x2="140.90" y2="264.65" stroke="#333" stroke-width="0.6"/>
<rect x="128.80" y="278.74" width="7.20" height="20.36" fill="#000" stroke="none" stroke-width="0.6"/>
<line x1="132.40" y1="278.74" x2="132.40" y2="275.48" stroke="#222" stroke-width="0.6"/>
<line x1="131.10" y1="275.48" x2="133.70" y2="275.48" stroke="#222" stroke-width="0.6"/>
<line x1="147.80" y1="299.10" x2="147.80" y2="301.10" stroke="#333" stroke-width="0.5"/>
<text x="138.30" y="309.60" font-size="6.0" text-anchor="middle" font-weight="normal" fill="#111" transform="rotate(-90 138.30 309.60)">MCP1</text>
<rect x="160.00" y="226.61" width="7.00" height="72.49" fill="#fff" stroke="#222" stroke-width="0.6"/>
<line x1="163.60" y1="226.61" x2="163.60" y2="223.76" stroke="#333" stroke-width="0.6"/>
<line x1="162.30" y1="223.76" x2="164.90" y2="223.76" stroke="#333" stroke-width="0.6"/>
<rect x="152.80" y="225.55" width="7.20" height="73.55" fill="#000" stroke="none" stroke-width="0.6"/>
<line x1="156.40" y1="225.55" x2="156.40" y2="223.51" stroke="#222" stroke-width="0.6"/>
<line x1="155.10" y1="223.51" x2="157.70" y2="223.51" stroke="#222" stroke-width="0.6"/>
<line x1="171.80" y1="299.10" x2="171.80" y2="301.10" stroke="#333" stroke-width="0.5"/>
<text x="162.30" y="309.60" font-size="6.0" text-anchor="middle" font-weight="normal" fill="#111" transform="rotate(-90 162.30 309.60)">no. 20</text>
<rect x="184.00" y="236.55" width="7.00" height="62.55" fill="#fff" stroke="#222" stroke-width="0.6"/>
<line x1="187.60" y1="236.55" x2="187.60" y2="233.94" stroke="#333" stroke-width="0.6"/>
<line x1="186.30" y1="233.94" x2="188.90" y2="233.94" stroke="#333" stroke-width="0.6"/>
<rect x="176.80" y="226.20" width="7.20" height="72.90" fill="#000" stroke="none" stroke-width="0.6"/>
<line x1="180.40" y1="226.20" x2="180.40" y2="224.17" stroke="#222" stroke-width="0.6"/>
<line x1="179.10" y1="224.17" x2="181.70" y2="224.17" stroke="#222" stroke-width="0.6"/>
<line x1="195.80" y1="299.10" x2="195.80" y2="301.10" stroke="#333" stroke-width="0.5"/>
<text x="186.30" y="309.60" font-size="6.0" text-anchor="middle" font-weight="normal" fill="#111" transform="rotate(-90 186.30 309.60)">no. 21</text>
<rect x="208.00" y="216.84" width="7.00" height="82.26" fill="#fff" stroke="#222" stroke-width="0.6"/>
<line x1="211.60" y1="216.84" x2="211.60" y2="215.21" stroke="#333" stroke-width="0.6"/>
<line x1="210.30" y1="215.21" x2="212.90" y2="215.21" stroke="#333" stroke-width="0.6"/>
<rect x="200.80" y="220.91" width="7.20" height="78.19" fill="#000" stroke="none" stroke-width="0.6"/>
<line x1="204.40" y1="220.91" x2="204.40" y2="218.46" stroke="#222" stroke-width="0.6"/>
<line x1="203.10" y1="218.46" x2="205.70" y2="218.46" stroke="#222" stroke-width="0.6"/>
<line x1="219.80" y1="299.10" x2="219.80" y2="301.10" stroke="#333" stroke-width="0.5"/>
<text x="210.30" y="309.60" font-size="6.0" text-anchor="middle" font-weight="normal" fill="#111" transform="rotate(-90 210.30 309.60)">no. 22</text>
<rect x="232.00" y="221.72" width="7.00" height="77.38" fill="#fff" stroke="#222" stroke-width="0.6"/>
<line x1="235.60" y1="221.72" x2="235.60" y2="219.28" stroke="#333" stroke-width="0.6"/>
<line x1="234.30" y1="219.28" x2="236.90" y2="219.28" stroke="#333" stroke-width="0.6"/>
<rect x="224.80" y="219.28" width="7.20" height="79.82" fill="#000" stroke="none" stroke-width="0.6"/>
<line x1="228.40" y1="219.28" x2="228.40" y2="218.46" stroke="#222" stroke-width="0.6"/>
<line x1="227.10" y1="218.46" x2="229.70" y2="218.46" stroke="#222" stroke-width="0.6"/>
<line x1="243.80" y1="299.10" x2="243.80" y2="301.10" stroke="#333" stroke-width="0.5"/>
<text x="234.30" y="309.60" font-size="6.0" text-anchor="middle" font-weight="normal" fill="#111" transform="rotate(-90 234.30 309.60)">HC</text>
<line x1="123.80" y1="202.20" x2="123.80" y2="299.10" stroke="#333" stroke-width="0.8"/>
<line x1="123.80" y1="299.10" x2="243.80" y2="299.10" stroke="#222" stroke-width="0.8"/>
<line x1="122.20" y1="282.81" x2="123.80" y2="282.81" stroke="#333" stroke-width="0.7"/>
<text x="122.10" y="285.11" font-size="6.4" text-anchor="end" font-weight="normal" fill="#111">20</text>
<line x1="122.20" y1="266.52" x2="123.80" y2="266.52" stroke="#333" stroke-width="0.7"/>
<text x="122.10" y="268.82" font-size="6.4" text-anchor="end" font-weight="normal" fill="#111">40</text>
<line x1="122.20" y1="250.23" x2="123.80" y2="250.23" stroke="#333" stroke-width="0.7"/>
<text x="122.10" y="252.53" font-size="6.4" text-anchor="end" font-weight="normal" fill="#111">60</text>
<line x1="122.20" y1="233.94" x2="123.80" y2="233.94" stroke="#333" stroke-width="0.7"/>
<text x="122.10" y="236.24" font-size="6.4" text-anchor="end" font-weight="normal" fill="#111">80</text>
<line x1="122.20" y1="217.65" x2="123.80" y2="217.65" stroke="#333" stroke-width="0.7"/>
<text x="122.10" y="219.95" font-size="6.4" text-anchor="end" font-weight="normal" fill="#111">100</text>
<rect x="155.00" y="198.40" width="4.40" height="4.00" fill="#000" stroke="none" stroke-width="0.6"/>
<text x="160.80" y="202.90" font-size="6.3" text-anchor="start" font-weight="normal" fill="#111" textLength="29.5" lengthAdjust="spacingAndGlyphs">U87 CCR2</text>
<rect x="153.50" y="204.20" width="70.00" height="9.00" fill="#fff" stroke="none" stroke-width="0.6"/>
<rect x="155.20" y="206.60" width="4.10" height="4.00" fill="#fff" stroke="#222" stroke-width="0.6"/>
<text x="160.80" y="211.10" font-size="6.3" text-anchor="start" font-weight="normal" fill="#111">CD4+ T Lymphocytes</text>
<text x="105.70" y="297.40" font-size="5.8" text-anchor="start" font-weight="normal" fill="#111" textLength="9.2" lengthAdjust="spacingAndGlyphs" transform="rotate(-90 105.70 297.40)">125</text>
<text x="110.30" y="287.20" font-size="6.2" text-anchor="start" font-weight="normal" fill="#111" textLength="79.2" lengthAdjust="spacingAndGlyphs" transform="rotate(-90 110.30 287.20)">I MCP1 binding inhibition (%)</text>
</g>
<g id="panelE">
<text x="263.70" y="185.30" font-size="13.0" text-anchor="start" font-weight="bold" fill="#000">E</text>
<line x1="282.90" y1="185.00" x2="424.10" y2="185.00" stroke="#555" stroke-width="0.8"/>
<line x1="424.10" y1="185.00" x2="424.10" y2="298.40" stroke="#555" stroke-width="0.8"/>
<line x1="282.90" y1="285.57" x2="424.10" y2="285.57" stroke="#444" stroke-width="0.7"/>
<line x1="282.90" y1="272.74" x2="424.10" y2="272.74" stroke="#444" stroke-width="0.7"/>
<line x1="282.90" y1="259.91" x2="424.10" y2="259.91" stroke="#444" stroke-width="0.7"/>
<line x1="282.90" y1="247.08" x2="424.10" y2="247.08" stroke="#444" stroke-width="0.7"/>
<line x1="282.90" y1="234.25" x2="424.10" y2="234.25" stroke="#444" stroke-width="0.7"/>
<line x1="282.90" y1="221.42" x2="424.10" y2="221.42" stroke="#444" stroke-width="0.7"/>
<line x1="282.90" y1="208.59" x2="424.10" y2="208.59" stroke="#444" stroke-width="0.7"/>
<line x1="282.90" y1="195.76" x2="424.10" y2="195.76" stroke="#444" stroke-width="0.7"/>
<rect x="288.50" y="289.68" width="2.50" height="8.72" fill="#fff" stroke="#444" stroke-width="0.55"/>
<line x1="289.75" y1="289.68" x2="289.75" y2="287.62" stroke="#555" stroke-width="0.55"/>
<line x1="288.75" y1="287.62" x2="290.75" y2="287.62" stroke="#555" stroke-width="0.55"/>
<rect x="285.10" y="204.74" width="3.40" height="93.66" fill="#000" stroke="none" stroke-width="0.6"/>
<line x1="286.80" y1="204.74" x2="286.80" y2="202.17" stroke="#222" stroke-width="0.6"/>
<line x1="285.80" y1="202.17" x2="287.80" y2="202.17" stroke="#222" stroke-width="0.6"/>
<line x1="292.99" y1="298.40" x2="292.99" y2="300.40" stroke="#333" stroke-width="0.5"/>
<text x="290.64" y="300.70" font-size="5.7" text-anchor="end" font-weight="normal" fill="#111" transform="rotate(-90 290.64 300.70)">no. 4</text>
<rect x="298.54" y="284.03" width="2.50" height="14.37" fill="#fff" stroke="#444" stroke-width="0.55"/>
<line x1="299.79" y1="284.03" x2="299.79" y2="280.95" stroke="#555" stroke-width="0.55"/>
<line x1="298.79" y1="280.95" x2="300.79" y2="280.95" stroke="#555" stroke-width="0.55"/>
<rect x="295.14" y="230.40" width="3.40" height="68.00" fill="#000" stroke="none" stroke-width="0.6"/>
<line x1="296.84" y1="230.40" x2="296.84" y2="228.60" stroke="#222" stroke-width="0.6"/>
<line x1="295.84" y1="228.60" x2="297.84" y2="228.60" stroke="#222" stroke-width="0.6"/>
<line x1="303.07" y1="298.40" x2="303.07" y2="300.40" stroke="#333" stroke-width="0.5"/>
<text x="300.73" y="300.70" font-size="5.7" text-anchor="end" font-weight="normal" fill="#111" transform="rotate(-90 300.73 300.70)">no. 11</text>
<rect x="308.58" y="293.01" width="2.50" height="5.39" fill="#fff" stroke="#444" stroke-width="0.55"/>
<line x1="309.83" y1="293.01" x2="309.83" y2="290.19" stroke="#555" stroke-width="0.55"/>
<line x1="308.83" y1="290.19" x2="310.83" y2="290.19" stroke="#555" stroke-width="0.55"/>
<rect x="305.18" y="226.55" width="3.40" height="71.85" fill="#000" stroke="none" stroke-width="0.6"/>
<line x1="306.88" y1="226.55" x2="306.88" y2="224.76" stroke="#222" stroke-width="0.6"/>
<line x1="305.88" y1="224.76" x2="307.88" y2="224.76" stroke="#222" stroke-width="0.6"/>
<line x1="313.16" y1="298.40" x2="313.16" y2="300.40" stroke="#333" stroke-width="0.5"/>
<text x="310.81" y="300.70" font-size="5.7" text-anchor="end" font-weight="normal" fill="#111" transform="rotate(-90 310.81 300.70)">no. 20</text>
<rect x="318.62" y="293.78" width="2.50" height="4.62" fill="#fff" stroke="#444" stroke-width="0.55"/>
<line x1="319.87" y1="293.78" x2="319.87" y2="289.93" stroke="#555" stroke-width="0.55"/>
<line x1="318.87" y1="289.93" x2="320.87" y2="289.93" stroke="#555" stroke-width="0.55"/>
<rect x="315.22" y="202.17" width="3.40" height="96.22" fill="#000" stroke="none" stroke-width="0.6"/>
<line x1="316.92" y1="202.17" x2="316.92" y2="199.10" stroke="#222" stroke-width="0.6"/>
<line x1="315.92" y1="199.10" x2="317.92" y2="199.10" stroke="#222" stroke-width="0.6"/>
<line x1="323.24" y1="298.40" x2="323.24" y2="300.40" stroke="#333" stroke-width="0.5"/>
<text x="320.90" y="300.70" font-size="5.7" text-anchor="end" font-weight="normal" fill="#111" transform="rotate(-90 320.90 300.70)">no. 21</text>
<rect x="328.66" y="288.65" width="2.50" height="9.75" fill="#fff" stroke="#444" stroke-width="0.55"/>
<line x1="329.91" y1="288.65" x2="329.91" y2="286.08" stroke="#555" stroke-width="0.55"/>
<line x1="328.91" y1="286.08" x2="330.91" y2="286.08" stroke="#555" stroke-width="0.55"/>
<rect x="325.26" y="205.25" width="3.40" height="93.15" fill="#000" stroke="none" stroke-width="0.6"/>
<line x1="326.96" y1="205.25" x2="326.96" y2="202.94" stroke="#222" stroke-width="0.6"/>
<line x1="325.96" y1="202.94" x2="327.96" y2="202.94" stroke="#222" stroke-width="0.6"/>
<line x1="333.33" y1="298.40" x2="333.33" y2="300.40" stroke="#333" stroke-width="0.5"/>
<text x="330.99" y="300.70" font-size="5.7" text-anchor="end" font-weight="normal" fill="#111" transform="rotate(-90 330.99 300.70)">no. 22</text>
<rect x="338.70" y="284.29" width="2.50" height="14.11" fill="#fff" stroke="#444" stroke-width="0.55"/>
<line x1="339.95" y1="284.29" x2="339.95" y2="281.98" stroke="#555" stroke-width="0.55"/>
<line x1="338.95" y1="281.98" x2="340.95" y2="281.98" stroke="#555" stroke-width="0.55"/>
<rect x="335.30" y="216.29" width="3.40" height="82.11" fill="#000" stroke="none" stroke-width="0.6"/>
<line x1="337.00" y1="216.29" x2="337.00" y2="213.21" stroke="#222" stroke-width="0.6"/>
<line x1="336.00" y1="213.21" x2="338.00" y2="213.21" stroke="#222" stroke-width="0.6"/>
<line x1="343.41" y1="298.40" x2="343.41" y2="300.40" stroke="#333" stroke-width="0.5"/>
<text x="341.07" y="300.70" font-size="5.7" text-anchor="end" font-weight="normal" fill="#111" transform="rotate(-90 341.07 300.70)">no. 29</text>
<rect x="348.74" y="274.54" width="2.50" height="23.86" fill="#fff" stroke="#444" stroke-width="0.55"/>
<line x1="349.99" y1="274.54" x2="349.99" y2="272.74" stroke="#555" stroke-width="0.55"/>
<line x1="348.99" y1="272.74" x2="350.99" y2="272.74" stroke="#555" stroke-width="0.55"/>
<rect x="345.34" y="206.02" width="3.40" height="92.38" fill="#000" stroke="none" stroke-width="0.6"/>
<line x1="347.04" y1="206.02" x2="347.04" y2="202.17" stroke="#222" stroke-width="0.6"/>
<line x1="346.04" y1="202.17" x2="348.04" y2="202.17" stroke="#222" stroke-width="0.6"/>
<line x1="353.50" y1="298.40" x2="353.50" y2="300.40" stroke="#333" stroke-width="0.5"/>
<text x="351.16" y="300.70" font-size="5.7" text-anchor="end" font-weight="normal" fill="#111" transform="rotate(-90 351.16 300.70)">no. 39</text>
<rect x="358.78" y="274.02" width="2.50" height="24.38" fill="#fff" stroke="#444" stroke-width="0.55"/>
<line x1="360.03" y1="274.02" x2="360.03" y2="270.94" stroke="#555" stroke-width="0.55"/>
<line x1="359.03" y1="270.94" x2="361.03" y2="270.94" stroke="#555" stroke-width="0.55"/>
<rect x="355.38" y="211.16" width="3.40" height="87.24" fill="#000" stroke="none" stroke-width="0.6"/>
<line x1="357.08" y1="211.16" x2="357.08" y2="208.08" stroke="#222" stroke-width="0.6"/>
<line x1="356.08" y1="208.08" x2="358.08" y2="208.08" stroke="#222" stroke-width="0.6"/>
<line x1="363.59" y1="298.40" x2="363.59" y2="300.40" stroke="#333" stroke-width="0.5"/>
<text x="361.24" y="300.70" font-size="5.7" text-anchor="end" font-weight="normal" fill="#111" transform="rotate(-90 361.24 300.70)">no. NY4</text>
<rect x="368.82" y="284.29" width="2.50" height="14.11" fill="#fff" stroke="#444" stroke-width="0.55"/>
<line x1="370.07" y1="284.29" x2="370.07" y2="280.44" stroke="#555" stroke-width="0.55"/>
<line x1="369.07" y1="280.44" x2="371.07" y2="280.44" stroke="#555" stroke-width="0.55"/>
<rect x="365.42" y="202.17" width="3.40" height="96.22" fill="#000" stroke="none" stroke-width="0.6"/>
<line x1="367.12" y1="202.17" x2="367.12" y2="197.04" stroke="#222" stroke-width="0.6"/>
<line x1="366.12" y1="197.04" x2="368.12" y2="197.04" stroke="#222" stroke-width="0.6"/>
<line x1="373.67" y1="298.40" x2="373.67" y2="300.40" stroke="#333" stroke-width="0.5"/>
<text x="371.33" y="300.70" font-size="5.7" text-anchor="end" font-weight="normal" fill="#111" transform="rotate(-90 371.33 300.70)">no. NY6</text>
<rect x="378.86" y="274.02" width="2.50" height="24.38" fill="#fff" stroke="#444" stroke-width="0.55"/>
<line x1="380.11" y1="274.02" x2="380.11" y2="270.17" stroke="#555" stroke-width="0.55"/>
<line x1="379.11" y1="270.17" x2="381.11" y2="270.17" stroke="#555" stroke-width="0.55"/>
<rect x="375.46" y="220.14" width="3.40" height="78.26" fill="#000" stroke="none" stroke-width="0.6"/>
<line x1="377.16" y1="220.14" x2="377.16" y2="218.34" stroke="#222" stroke-width="0.6"/>
<line x1="376.16" y1="218.34" x2="378.16" y2="218.34" stroke="#222" stroke-width="0.6"/>
<line x1="383.76" y1="298.40" x2="383.76" y2="300.40" stroke="#333" stroke-width="0.5"/>
<text x="381.41" y="300.70" font-size="5.7" text-anchor="end" font-weight="normal" fill="#111" transform="rotate(-90 381.41 300.70)">no. NY9</text>
<rect x="388.90" y="283.00" width="2.50" height="15.40" fill="#fff" stroke="#444" stroke-width="0.55"/>
<line x1="390.15" y1="283.00" x2="390.15" y2="280.44" stroke="#555" stroke-width="0.55"/>
<line x1="389.15" y1="280.44" x2="391.15" y2="280.44" stroke="#555" stroke-width="0.55"/>
<rect x="385.50" y="220.14" width="3.40" height="78.26" fill="#000" stroke="none" stroke-width="0.6"/>
<line x1="387.20" y1="220.14" x2="387.20" y2="218.34" stroke="#222" stroke-width="0.6"/>
<line x1="386.20" y1="218.34" x2="388.20" y2="218.34" stroke="#222" stroke-width="0.6"/>
<line x1="393.84" y1="298.40" x2="393.84" y2="300.40" stroke="#333" stroke-width="0.5"/>
<text x="391.50" y="300.70" font-size="5.7" text-anchor="end" font-weight="normal" fill="#111" transform="rotate(-90 391.50 300.70)">no. NY10</text>
<rect x="398.94" y="291.98" width="2.50" height="6.42" fill="#fff" stroke="#444" stroke-width="0.55"/>
<line x1="400.19" y1="291.98" x2="400.19" y2="288.91" stroke="#555" stroke-width="0.55"/>
<line x1="399.19" y1="288.91" x2="401.19" y2="288.91" stroke="#555" stroke-width="0.55"/>
<rect x="395.54" y="289.42" width="3.40" height="8.98" fill="#000" stroke="none" stroke-width="0.6"/>
<line x1="397.24" y1="289.42" x2="397.24" y2="286.34" stroke="#222" stroke-width="0.6"/>
<line x1="396.24" y1="286.34" x2="398.24" y2="286.34" stroke="#222" stroke-width="0.6"/>
<line x1="403.93" y1="298.40" x2="403.93" y2="300.40" stroke="#333" stroke-width="0.5"/>
<text x="401.59" y="300.70" font-size="5.7" text-anchor="end" font-weight="normal" fill="#111" transform="rotate(-90 401.59 300.70)">HC</text>
<rect x="408.98" y="291.98" width="2.50" height="6.42" fill="#fff" stroke="#444" stroke-width="0.55"/>
<line x1="410.23" y1="291.98" x2="410.23" y2="287.62" stroke="#555" stroke-width="0.55"/>
<line x1="409.23" y1="287.62" x2="411.23" y2="287.62" stroke="#555" stroke-width="0.55"/>
<rect x="405.58" y="218.85" width="3.40" height="79.55" fill="#000" stroke="none" stroke-width="0.6"/>
<line x1="407.28" y1="218.85" x2="407.28" y2="214.49" stroke="#222" stroke-width="0.6"/>
<line x1="406.28" y1="214.49" x2="408.28" y2="214.49" stroke="#222" stroke-width="0.6"/>
<line x1="414.01" y1="298.40" x2="414.01" y2="300.40" stroke="#333" stroke-width="0.5"/>
<text x="411.67" y="300.70" font-size="5.7" text-anchor="end" font-weight="normal" fill="#111" transform="rotate(-90 411.67 300.70)">2D7</text>
<rect x="419.02" y="207.31" width="2.50" height="91.09" fill="#fff" stroke="#444" stroke-width="0.55"/>
<line x1="420.27" y1="207.31" x2="420.27" y2="204.23" stroke="#555" stroke-width="0.55"/>
<line x1="419.27" y1="204.23" x2="421.27" y2="204.23" stroke="#555" stroke-width="0.55"/>
<rect x="415.62" y="289.42" width="3.40" height="8.98" fill="#000" stroke="none" stroke-width="0.6"/>
<line x1="417.32" y1="289.42" x2="417.32" y2="286.85" stroke="#222" stroke-width="0.6"/>
<line x1="416.32" y1="286.85" x2="418.32" y2="286.85" stroke="#222" stroke-width="0.6"/>
<line x1="424.10" y1="298.40" x2="424.10" y2="300.40" stroke="#333" stroke-width="0.5"/>
<text x="421.76" y="300.70" font-size="5.7" text-anchor="end" font-weight="normal" fill="#111" transform="rotate(-90 421.76 300.70)">12G5</text>
<line x1="282.90" y1="185.00" x2="282.90" y2="298.40" stroke="#333" stroke-width="0.8"/>
<line x1="282.90" y1="298.40" x2="424.10" y2="298.40" stroke="#222" stroke-width="0.8"/>
<line x1="281.30" y1="285.57" x2="282.90" y2="285.57" stroke="#333" stroke-width="0.6"/>
<text x="279.50" y="287.87" font-size="6.2" text-anchor="end" font-weight="normal" fill="#111">0.5</text>
<line x1="281.30" y1="272.74" x2="282.90" y2="272.74" stroke="#333" stroke-width="0.6"/>
<text x="279.50" y="275.04" font-size="6.2" text-anchor="end" font-weight="normal" fill="#111">1</text>
<line x1="281.30" y1="259.91" x2="282.90" y2="259.91" stroke="#333" stroke-width="0.6"/>
<text x="279.50" y="262.21" font-size="6.2" text-anchor="end" font-weight="normal" fill="#111">1.5</text>
<line x1="281.30" y1="247.08" x2="282.90" y2="247.08" stroke="#333" stroke-width="0.6"/>
<text x="279.50" y="249.38" font-size="6.2" text-anchor="end" font-weight="normal" fill="#111">2</text>
<line x1="281.30" y1="234.25" x2="282.90" y2="234.25" stroke="#333" stroke-width="0.6"/>
<text x="279.50" y="236.55" font-size="6.2" text-anchor="end" font-weight="normal" fill="#111">2.5</text>
<line x1="281.30" y1="221.42" x2="282.90" y2="221.42" stroke="#333" stroke-width="0.6"/>
<text x="279.50" y="223.72" font-size="6.2" text-anchor="end" font-weight="normal" fill="#111">3</text>
<line x1="281.30" y1="208.59" x2="282.90" y2="208.59" stroke="#333" stroke-width="0.6"/>
<text x="279.50" y="210.89" font-size="6.2" text-anchor="end" font-weight="normal" fill="#111">3.5</text>
<line x1="281.30" y1="195.76" x2="282.90" y2="195.76" stroke="#333" stroke-width="0.6"/>
<text x="279.50" y="198.06" font-size="6.2" text-anchor="end" font-weight="normal" fill="#111">4</text>
<rect x="318.00" y="176.20" width="4.00" height="3.90" fill="#000" stroke="none" stroke-width="0.6"/>
<text x="323.30" y="180.50" font-size="5.9" text-anchor="start" font-weight="normal" fill="#111" textLength="27" lengthAdjust="spacingAndGlyphs">U87 CCR5</text>
<rect x="360.00" y="176.30" width="3.80" height="3.70" fill="#fff" stroke="#222" stroke-width="0.6"/>
<text x="366.00" y="180.50" font-size="5.8" text-anchor="start" font-weight="normal" fill="#111" textLength="30" lengthAdjust="spacingAndGlyphs">U87 CXCR4</text>
<text x="269.20" y="283.90" font-size="6.3" text-anchor="start" font-weight="normal" fill="#111" textLength="72.4" lengthAdjust="spacingAndGlyphs" transform="rotate(-90 269.20 283.90)">Igs binding (CPM x 1000)</text>
</g>
</svg>
</body></html>
